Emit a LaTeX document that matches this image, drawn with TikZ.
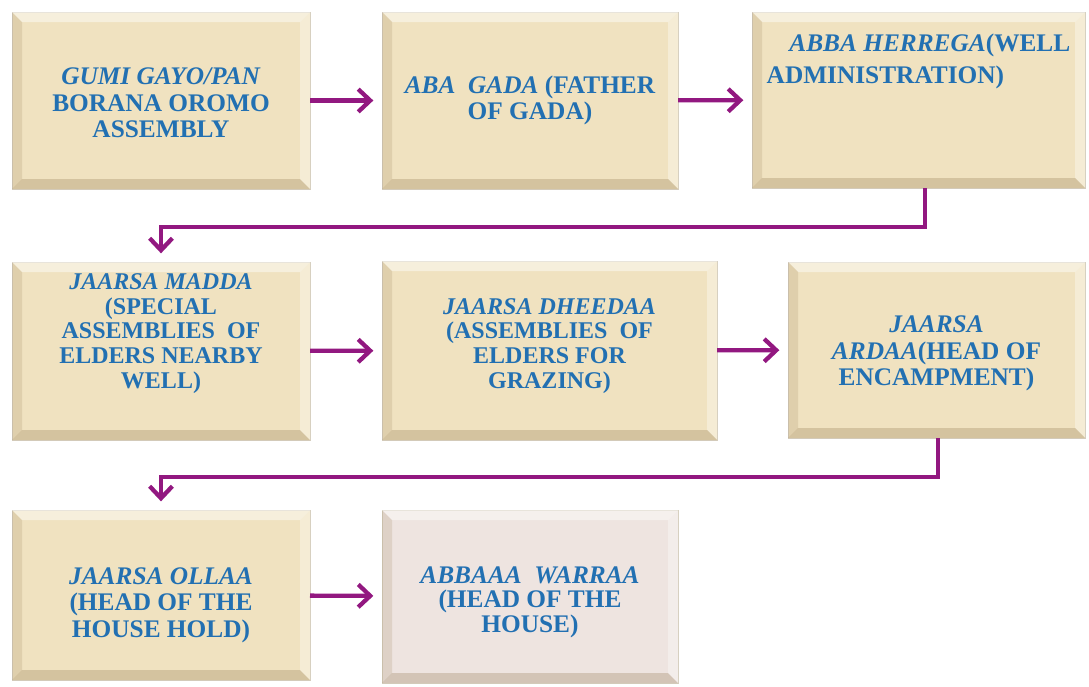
\documentclass[tikz,border=0pt]{standalone}
\usepackage{fontspec}
\setmainfont{Liberation Serif}
\usetikzlibrary{arrows.meta,calc}

\definecolor{papyrus}{RGB}{240,226,192}
\definecolor{papyruspink}{RGB}{238,228,224}
\definecolor{gadablue}{RGB}{34,112,178}
\definecolor{flowpurple}{RGB}{146,24,128}
\definecolor{boxedge}{RGB}{214,206,190}
\definecolor{bevellow}{RGB}{150,125,85}

\begin{document}
\begin{tikzpicture}[x=0.75pt,y=0.75pt,yscale=-1,
  box/.style={draw=boxedge,line width=0.6pt,fill=papyrus,inner sep=0pt,outer sep=0pt,
    minimum width=223.5pt,minimum height=132.75pt,align=center,text=gadablue,
    font=\fontsize{19}{20}\selectfont\bfseries},
  flow/.style={draw=flowpurple,line width=3.2pt,-{Straight Barb[length=9pt,width=17pt]},shorten >=6.5pt}]
\useasboundingbox (0,0) rectangle (1089,686);

%Shape: Rectangle
\node[box,text height=56pt] (gumi) at (161,100.5) {\textit{GUMI GAYO/PAN}\\BORANA OROMO\\ASSEMBLY};
%Shape: Rectangle
\node[box,minimum width=222pt] (abagada) at (530,100.5) {\textit{ABA\ \ GADA} (FATHER\\OF GADA)};
%Shape: Rectangle
\node[box,minimum width=249.75pt,minimum height=132pt,align=left,text depth=62pt,
  font=\fontsize{19}{24}\selectfont\bfseries] (herrega) at (918.5,100)
  {\hspace*{17pt}\textit{ABBA HERREGA}(WELL\\ADMINISTRATION)};
%Shape: Rectangle
\node[box,minimum height=133.5pt,text depth=30pt,font=\fontsize{18}{18.5}\selectfont\bfseries] (madda) at (161,351)
  {\textit{JAARSA MADDA}\\(SPECIAL\\ASSEMBLIES\ \ OF\\ELDERS NEARBY\\WELL)};
%Shape: Rectangle
\node[box,minimum width=251.25pt,minimum height=134.25pt,text depth=11pt,font=\fontsize{18}{18.5}\selectfont\bfseries] (dheedaa) at (549.5,350.5)
  {\textit{JAARSA DHEEDAA}\\(ASSEMBLIES\ \ OF\\ELDERS FOR\\GRAZING)};
%Shape: Rectangle
\node[box,minimum width=222.75pt,minimum height=132pt,text height=58pt] (ardaa) at (936.5,350)
  {\textit{JAARSA}\\\textit{ARDAA}(HEAD OF\\ENCAMPMENT)};
%Shape: Rectangle
\node[box,minimum height=127.5pt,text height=68pt] (ollaa) at (161,595)
  {\textit{JAARSA OLLAA}\\(HEAD OF THE\\HOUSE HOLD)};
%Shape: Rectangle
\node[box,fill=papyruspink,minimum width=222pt,minimum height=129.75pt,text height=58pt,
  font=\fontsize{19}{18.5}\selectfont\bfseries] (warraa) at (530,596.5)
  {\textit{ABBAAA\ \ WARRAA}\\(HEAD OF THE\\HOUSE)};

%Bevel edges
\foreach \b in {gumi,abagada,herrega,madda,dheedaa,ardaa,ollaa,warraa}{
  \fill[white,opacity=0.45] (\b.north west) -- (\b.north east) -- ($(\b.north east)+(-10,10)$) -- ($(\b.north west)+(10,10)$) -- cycle;
  \fill[bevellow,opacity=0.18] (\b.north west) -- ($(\b.north west)+(10,10)$) -- ($(\b.south west)+(10,-10)$) -- (\b.south west) -- cycle;
  \fill[white,opacity=0.35] (\b.north east) -- (\b.south east) -- ($(\b.south east)+(-10,-10)$) -- ($(\b.north east)+(-10,10)$) -- cycle;
  \fill[bevellow,opacity=0.3] (\b.south west) -- ($(\b.south west)+(10,-10)$) -- ($(\b.south east)+(-10,-10)$) -- (\b.south east) -- cycle;
}

%Straight Lines
\draw[flow] (gumi) -- (abagada);
%Straight Lines
\draw[flow] (abagada) -- (herrega);
%Straight Lines
\coordinate (turnA) at (925,227);
\draw[flow] (herrega.south -| turnA) -- (turnA) -| (madda.north);
%Straight Lines
\draw[flow] (madda) -- (dheedaa);
%Straight Lines
\draw[flow] (dheedaa) -- (ardaa);
%Straight Lines
\coordinate (turnB) at (938,477);
\draw[flow] (ardaa.south -| turnB) -- (turnB) -| (ollaa.north);
%Straight Lines
\draw[flow] (ollaa) -- (warraa);

\end{tikzpicture}
\end{document}
